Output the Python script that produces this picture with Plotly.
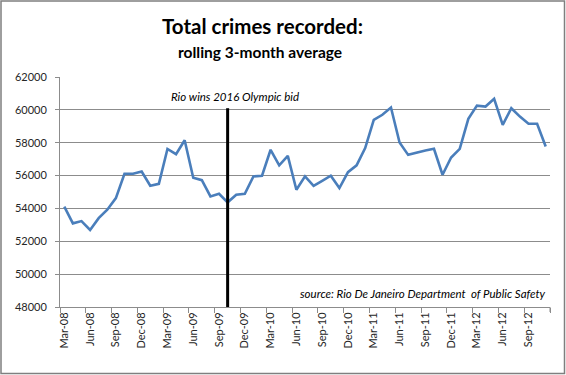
import plotly.graph_objects as go

months = [
    "Mar-08", "Apr-08", "May-08", "Jun-08", "Jul-08", "Aug-08", "Sep-08", "Oct-08", "Nov-08", "Dec-08",
    "Jan-09", "Feb-09", "Mar-09", "Apr-09", "May-09", "Jun-09", "Jul-09", "Aug-09", "Sep-09", "Oct-09",
    "Nov-09", "Dec-09", "Jan-10", "Feb-10", "Mar-10", "Apr-10", "May-10", "Jun-10", "Jul-10", "Aug-10",
    "Sep-10", "Oct-10", "Nov-10", "Dec-10", "Jan-11", "Feb-11", "Mar-11", "Apr-11", "May-11", "Jun-11",
    "Jul-11", "Aug-11", "Sep-11", "Oct-11", "Nov-11", "Dec-11", "Jan-12", "Feb-12", "Mar-12", "Apr-12",
    "May-12", "Jun-12", "Jul-12", "Aug-12", "Sep-12", "Oct-12", "Nov-12",
]

crimes = [
    54110, 53090, 53230, 52690, 53410, 53920, 54630, 56110, 56110, 56250,
    55380, 55500, 57620, 57300, 58150, 55870, 55720, 54730, 54890, 54370,
    54830, 54890, 55950, 55990, 57570, 56620, 57200, 55140, 55950, 55380,
    55680, 55990, 55240, 56210, 56620, 57670, 59390, 59700, 60140, 58010,
    57260, 57410, 57530, 57630, 56050, 57100, 57630, 59450, 60260, 60200,
    60670, 59090, 60100, 59590, 59150, 59150, 57770,
]

event_month = "Oct-09"
event_label = "Rio wins 2016 Olympic bid"
source_text = "source: Rio De Janeiro Department  of Public Safety"

W, H = 566, 375
ML, MR, MT, MB = 60, 16, 77, 68
PW, PH = W - ML - MR, H - MT - MB


def px_x(x):
    return (x - ML) / PW


def px_y(y):
    return (H - MB - y) / PH


FONT = "Lato, 'Open Sans', sans-serif"
TXT = "#262626"
GRID = "#8c8c8c"

fig = go.Figure()
fig.add_trace(go.Scatter(
    x=months, y=crimes, mode="lines",
    line=dict(color="#4a7ebb", width=2.6),
    hoverinfo="x+y",
))

fig.update_layout(
    width=W, height=H,
    margin=dict(l=ML, r=MR, t=MT, b=MB),
    paper_bgcolor="white", plot_bgcolor="white",
    showlegend=False,
    font=dict(family=FONT, color=TXT, size=11),
    xaxis=dict(
        type="category", categoryorder="array", categoryarray=months,
        tickmode="linear", tick0=0, dtick=3,
        tickson="boundaries", ticks="outside", ticklen=5, tickcolor=GRID,
        tickangle=-90, tickfont=dict(size=11, color=TXT, family=FONT),
        showline=True, linecolor=GRID, linewidth=1,
        showgrid=False, zeroline=False,
        range=[-0.5, len(months) - 0.5],
    ),
    yaxis=dict(
        range=[48000, 62000], dtick=2000, tick0=48000, tickformat="d",
        ticks="outside", ticklen=4, tickcolor=GRID, ticklabelstandoff=6,
        showline=True, linecolor=GRID, linewidth=1,
        showgrid=True, gridcolor=GRID, gridwidth=1,
        zeroline=False, tickfont=dict(size=11, color=TXT, family=FONT),
    ),
)

# event marker line
fig.add_shape(type="line", xref="x", yref="y", x0=event_month, x1=event_month,
              y0=48000, y1=60100, line=dict(color="black", width=3))

# end tick at right edge of x axis
fig.add_shape(type="line", xref="paper", yref="paper", x0=1, x1=1,
              y0=0, y1=-5 / PH, line=dict(color=GRID, width=1))

# chart border
fig.add_shape(type="rect", xref="paper", yref="paper",
              x0=px_x(1), x1=px_x(W - 1.5), y0=px_y(H - 1.5), y1=px_y(1),
              line=dict(color="#7f7f7f", width=1.5), fillcolor="rgba(0,0,0,0)", layer="above")

fig.add_annotation(x=event_month, y=60800, xref="x", yref="y", text="<i>" + event_label + "</i>",
                   showarrow=False, xshift=7, font=dict(size=11.5, color="black", family=FONT))

fig.add_annotation(x=px_x(548), y=px_y(293), xref="paper", yref="paper",
                   text="<i>" + source_text + "</i>", showarrow=False,
                   xanchor="right", yanchor="middle",
                   font=dict(size=11.5, color="black", family=FONT))

fig.add_annotation(x=px_x(262), y=px_y(26), xref="paper", yref="paper",
                   text="<b>Total crimes recorded:</b>", showarrow=False,
                   xanchor="center", yanchor="middle",
                   font=dict(size=20.5, color="black", family=FONT))
fig.add_annotation(x=px_x(260), y=px_y(52), xref="paper", yref="paper",
                   text="<b>rolling 3-month average</b>", showarrow=False,
                   xanchor="center", yanchor="middle",
                   font=dict(size=15.5, color="black", family=FONT))

fig.write_html("out.html", config={"displayModeBar": False},
               post_script="document.body.style.margin='0';")
